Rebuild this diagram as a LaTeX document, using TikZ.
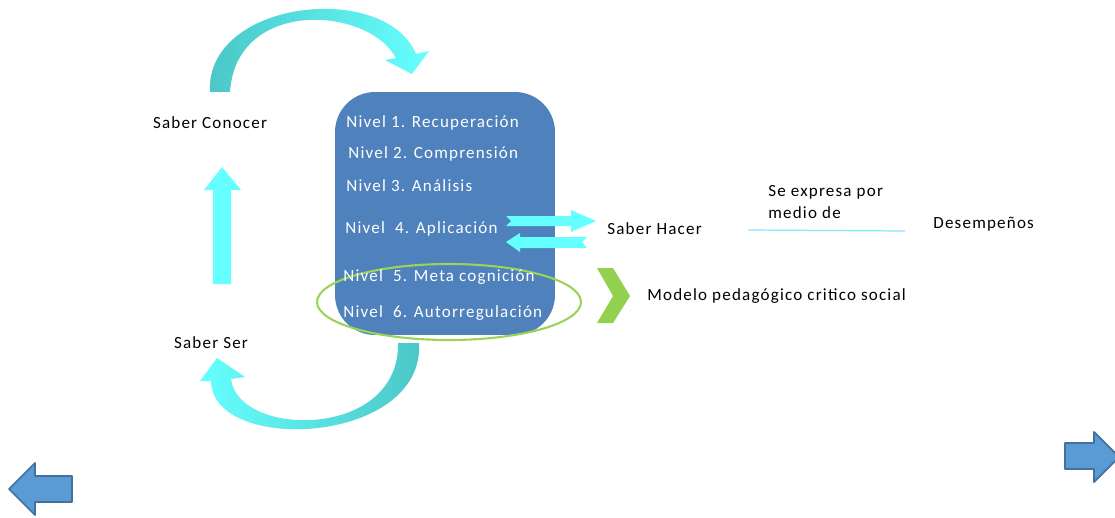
\documentclass[tikz,border=0pt]{standalone}
\usepackage{fontspec}
\setmainfont{Carlito}[LetterSpace=7]

\definecolor{boxblue}{HTML}{4F81BD}
\definecolor{arccyan}{HTML}{66FFFF}
\definecolor{arcteal}{HTML}{4BC6C6}
\definecolor{ringgreen}{HTML}{9BD35A}
\definecolor{chevgreen}{HTML}{92D050}
\definecolor{navfill}{HTML}{5B9BD5}
\definecolor{navline}{HTML}{41719C}
\definecolor{linkcyan}{HTML}{7FE8FF}

\tikzset{
  lvl/.style={anchor=west, text=white, inner sep=0pt},
  lbl/.style={inner sep=0pt},
  nav/.style={fill=navfill, draw=navline, line width=1pt, line join=round}
}

\begin{document}
\begin{tikzpicture}[x=0.02cm, y=-0.02cm, font=\fontsize{9.7}{12}\selectfont]
	\useasboundingbox (0,0) rectangle (1115,517);
	
	% central box with the levels
	\node[fill=boxblue, rounded corners=0.8cm, minimum width=4.4cm, minimum height=4.86cm, inner sep=0pt] (box) at (445,213.5) {};
	\draw[ringgreen, line width=1.2pt] (449,302) ellipse [x radius=2.64cm, y radius=0.76cm];
	
	\node[lvl] (n1) at (346,123) {Nivel 1. Recuperación};
	\node[lvl] (n2) at (348,154) {Nivel 2. Comprensión};
	\node[lvl] (n3) at (346,186) {Nivel 3. Análisis};
	\node[lvl] (n4) at (345,229) {Nivel\ \ 4. Aplicación};
	\node[lvl] (n5) at (343,277) {Nivel\ \ 5. Meta cognición};
	\node[lvl] (n6) at (343,313) {Nivel\ \ 6. Autorregulación};
	
	% curved arrows round the box
	\shade[left color=arcteal, right color=arccyan] (210,92) .. controls (205,0) and (385,-20) .. (416,54) -- (429,51) -- (412,74) -- (385,60) -- (396,58) .. controls (368,6) and (236,-2) .. (230,92) -- cycle;
	\shade[left color=arccyan, right color=arcteal] (419,343) .. controls (425,445) and (212,455) .. (211,381) -- (200,381) -- (217,358) -- (245,377) -- (231,379) .. controls (238,438) and (400,440) .. (398,343) -- cycle;
	\fill[arccyan] (213,284) -- (213,190) -- (204,190) -- (222,167) -- (241,190) -- (231,190) -- (231,284) -- cycle;
	
	\node[lbl] (conocer) at (210,123) {Saber Conocer};
	\node[lbl] (ser) at (211,343) {Saber Ser};
	
	% Saber Hacer
	\fill[arccyan] (506,216) -- (571,216) -- (571,210) -- (596,221) -- (571,232) -- (571,226) -- (506,226) -- (511,221) -- cycle;
	\fill[arccyan] (506,242) -- (520,233) -- (520,237) -- (587,237) -- (582,242) -- (587,248) -- (520,248) -- (520,252) -- cycle;
	\node[lbl, anchor=west] (hacer) at (607,229) {Saber Hacer};
	\node[lbl, anchor=west, align=left] (expresa) at (768,202) {Se expresa por\\medio de};
	\node[lbl, anchor=west] (desemp) at (933,224) {Desempeños};
	\coordinate (linkA) at (748,230);
	\coordinate (linkB) at (905,231);
	\draw[linkcyan, line width=0.7pt] (linkA) -- (linkB);
	
	% modelo
	\fill[chevgreen] (597,268) -- (613,268) -- (630,296) -- (613,323) -- (597,323) -- (613,296) -- cycle;
	\node[lbl, anchor=west] (modelo) at (647,296) {Modelo pedagógico critico social};
	
	% navigation arrows
	\draw[nav] (9,489) -- (35,463) -- (35,476) -- (72,476) -- (72,502) -- (35,502) -- (35,515) -- cycle;
	\draw[nav] (1065,443) -- (1094,443) -- (1094,432) -- (1119,457) -- (1094,482) -- (1094,469) -- (1065,469) -- cycle;
	
\end{tikzpicture}
\end{document}
